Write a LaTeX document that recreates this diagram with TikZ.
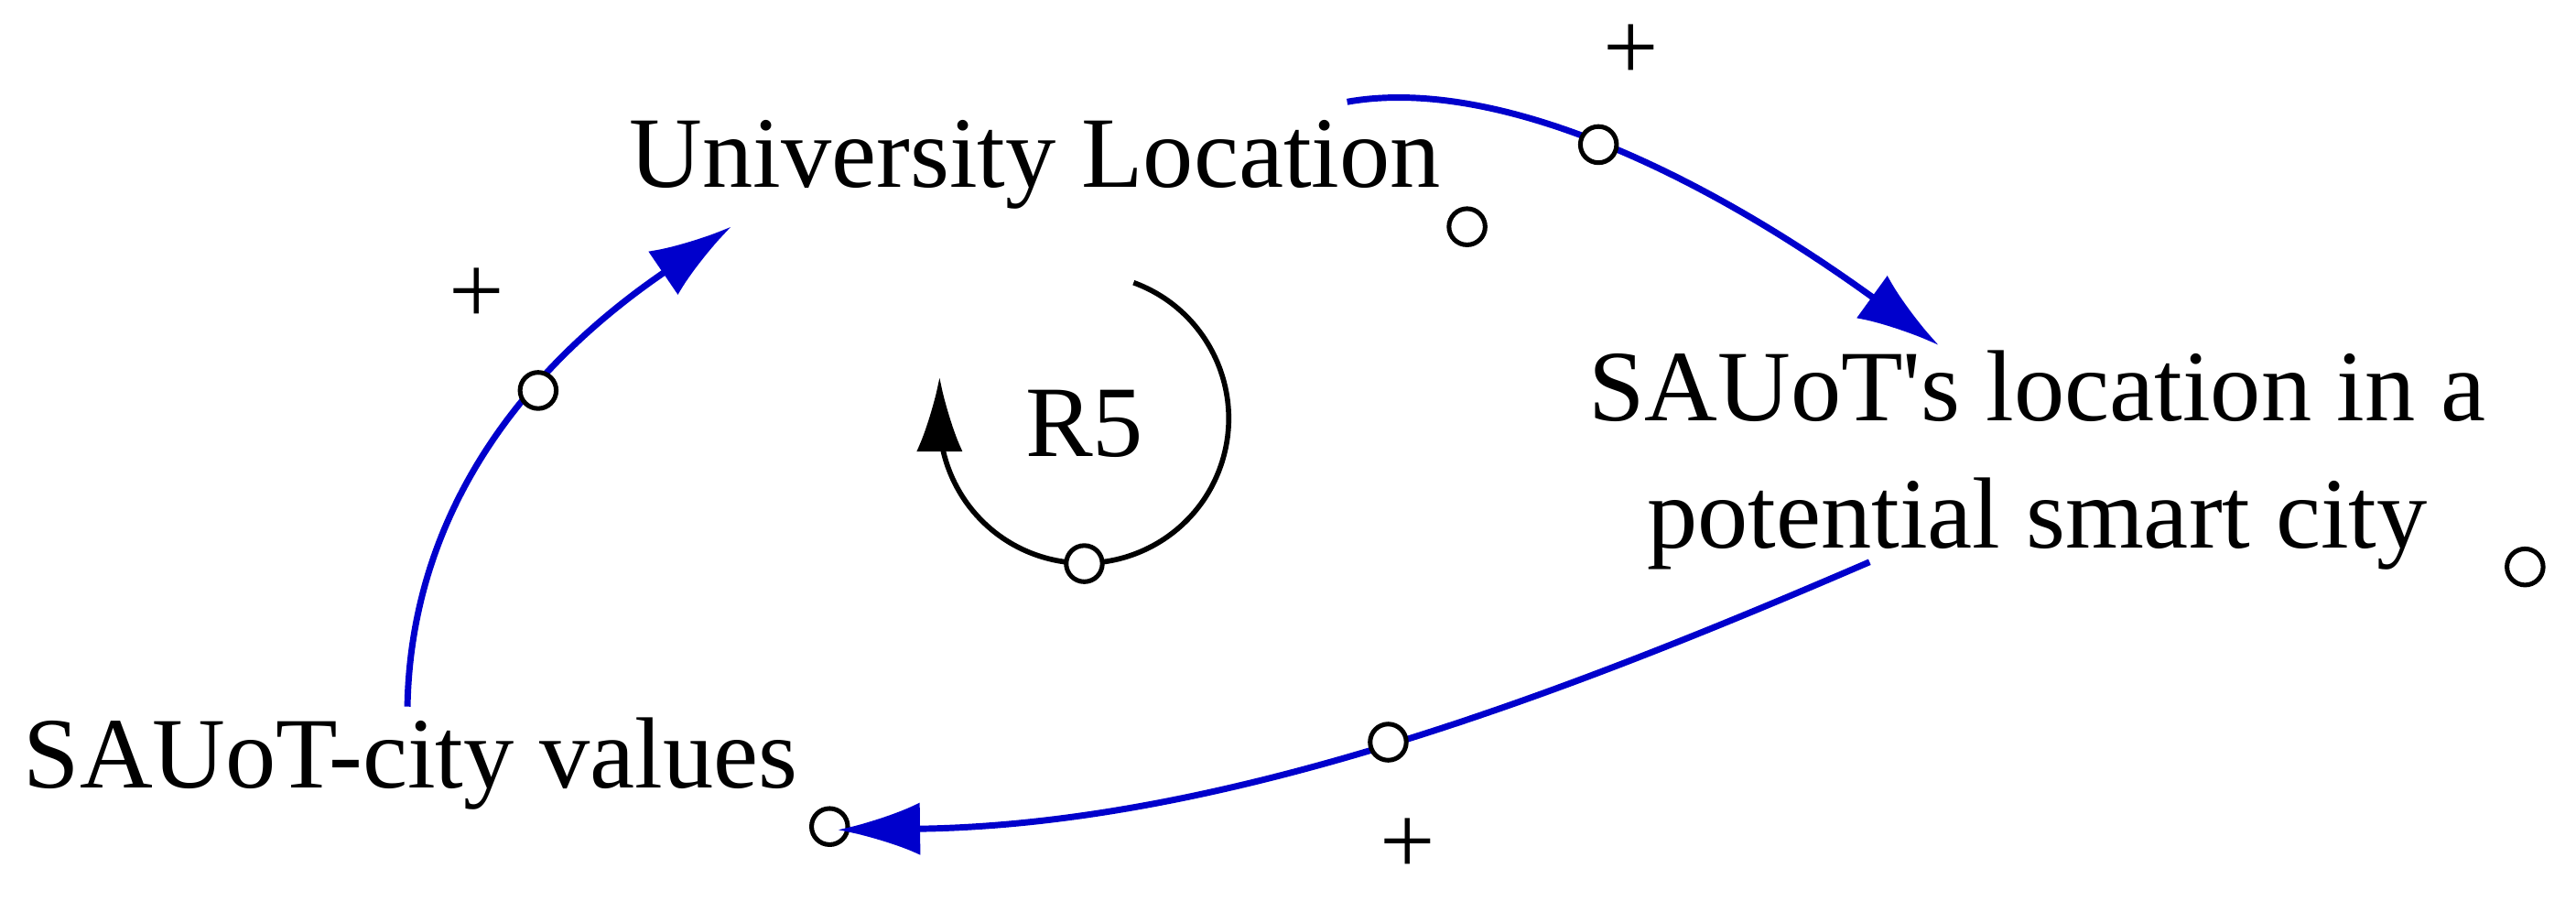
\documentclass[tikz,border=0pt]{standalone}
\usepackage{fontspec}
\setmainfont{Liberation Serif}[Ligatures=TeXOff]
\usetikzlibrary{arrows.meta}
\begin{document}
\begin{tikzpicture}[x=0.01cm,y=-0.01cm,
  lbl/.style={font=\fontsize{17.5}{22}\selectfont, inner sep=0pt, align=center},
  hole/.style={circle, draw=black, fill=white, line width=0.8pt, minimum size=0.22cm, inner sep=0pt},
  link/.style={draw=blue!80!black, line width=1.1pt, -{Latex[length=0.5cm,width=0.32cm]}},
  sgn/.style={font=\fontsize{17}{20}\selectfont, inner sep=0pt}]
\useasboundingbox (0,0) rectangle (1568,548);
\node[lbl] (ul) at (630,100) {University Location};
\node[lbl] (sl) at (1240,280) {SAUoT's location in a\\potential smart city};
\node[lbl] (cv) at (250,465) {SAUoT-city values};
\node[hole] (h1) at (893,138) {};
\node[hole] (h2) at (1537,345) {};
\node[hole] (h3) at (505,503) {};
\coordinate (a1) at (820,62); \coordinate (b1) at (1180,210);
\coordinate (a2) at (1138,342); \coordinate (b2) at (510,505);
\coordinate (a3) at (248,430); \coordinate (b3) at (445,138);
\draw[link] (a1) .. controls (904,47) and (1024,97) .. (b1) node[pos=0.5,hole]{};
\draw[link] (a2) .. controls (957,420) and (747,502) .. (b2) node[pos=0.5,hole]{};
\draw[link] (a3) .. controls (250,320) and (310,230) .. (b3) node[pos=0.64,hole]{};
\node[sgn] (p1) at (993,32) {+};
\node[sgn] (p2) at (857,515) {+};
\node[sgn] (p3) at (290,180) {+};
% loop
\draw[line width=0.9pt, -{Latex[length=0.45cm,width=0.28cm]}] (690,172) arc[start angle=-70, end angle=180, radius=88] -- ++(0,-25);
\node[hole] (lc) at (660,343) {};
\node[lbl] (r5) at (660,258) {R5};
\end{tikzpicture}
\end{document}
